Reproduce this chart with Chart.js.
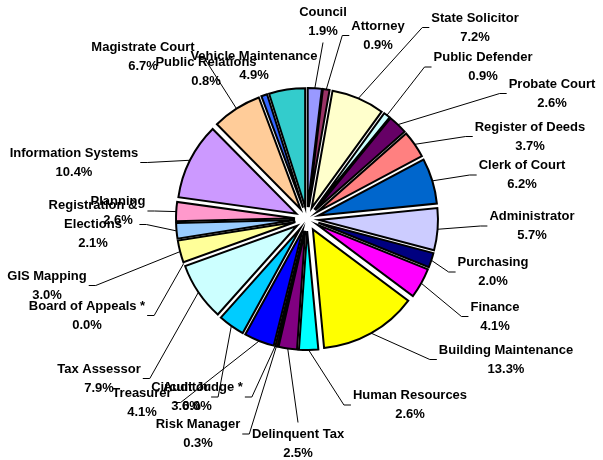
<!DOCTYPE html>
<html><head><meta charset="utf-8">
<script src="https://cdn.jsdelivr.net/npm/chart.js@4/dist/chart.umd.min.js"></script>
<style>html,body{margin:0;padding:0;background:#fff}#wrap{width:603px;height:460px}</style>
</head><body><div id="wrap"><canvas id="c" width="603" height="460"></canvas></div>
<script>
// ---- data ----
const departments = [
  'Council','Attorney','State Solicitor','Public Defender','Probate Court','Register of Deeds',
  'Clerk of Court','Administrator','Purchasing','Finance','Building Maintenance','Human Resources',
  'Delinquent Tax','Risk Manager','Circuit Judge *','Treasurer','Auditor','Tax Assessor',
  'Board of Appeals *','GIS Mapping','Registration & Elections','Planning','Information Systems',
  'Magistrate Court','Public Relations','Vehicle Maintenance'
];
const shares = [
  1.9, 0.9, 7.2, 0.9, 2.6, 3.7,
  6.2, 5.7, 2.0, 4.1, 13.3, 2.6,
  2.5, 0.3, 0.0, 4.1, 3.6, 7.9,
  0.0, 3.0, 2.1, 2.6, 10.4,
  6.7, 0.8, 4.9
];
const sliceColors = [
  '#9999FF','#993366','#FFFFCC','#CCFFFF','#660066','#FF8080',
  '#0066CC','#CCCCFF','#000080','#FF00FF','#FFFF00','#00FFFF',
  '#800080','#800000','#008080','#0000FF','#00CCFF','#CCFFFF',
  '#CCFFCC','#FFFF99','#99CCFF','#FF99CC','#CC99FF',
  '#FFCC99','#3366FF','#33CCCC'
];

// ---- layout (label box centres in px, wrapped label text) ----
const labelCentres = [
  [323,21.5],[378,35.5],[475,27.5],[483,67],[552,93.5],[530,136.5],
  [522,175],[532,226],[493,272],[495,316.5],[506,359.5],[410,405],
  [298,443.5],[198,434],[197,397],[142,402.5],[186,397],[99,378.5],
  [87,315.5],[47,285.5],[93,224.5],[118,211],[74,162.5],
  [143,57],[206,72],[254,66]
];
const labelWraps = {'Registration & Elections': ['Registration &', 'Elections']};
const EXPLODE = 12;
const LINE_H = 19;

const explodePlugin = {
  id: 'explode',
  afterDatasetsUpdate(chart) {
    chart.getDatasetMeta(0).data.forEach(arc => {
      const mid = (arc.startAngle + arc.endAngle) / 2;
      arc.x += Math.cos(mid) * EXPLODE;
      arc.y += Math.sin(mid) * EXPLODE;
    });
  }
};

const labelPlugin = {
  id: 'sliceLabels',
  afterDatasetsDraw(chart) {
    const ctx = chart.ctx;
    const arcs = chart.getDatasetMeta(0).data;
    ctx.save();
    ctx.font = 'bold 13px "Liberation Sans", Arial, sans-serif';
    ctx.textAlign = 'center';
    ctx.textBaseline = 'middle';
    ctx.strokeStyle = '#000';
    ctx.lineWidth = 1;
    arcs.forEach((arc, i) => {
      const lines = (labelWraps[departments[i]] || [departments[i]]).concat(shares[i].toFixed(1) + '%');
      const [cx, cy] = labelCentres[i];
      const h = lines.length * LINE_H;
      const w = Math.max(...lines.map(l => ctx.measureText(l).width));
      const left = cx - w / 2, right = cx + w / 2, top = cy - h / 2, bottom = cy + h / 2;
      const mid = (arc.startAngle + arc.endAngle) / 2;
      const sx = arc.x + Math.cos(mid) * arc.outerRadius;
      const sy = arc.y + Math.sin(mid) * arc.outerRadius;
      const dx = Math.max(left - sx, 0, sx - right);
      const dy = Math.max(top - sy, 0, sy - bottom);
      if (Math.hypot(dx, dy) > 10) {
        ctx.beginPath();
        ctx.moveTo(sx, sy);
        if (sx < left) { ctx.lineTo(left - 9, cy); ctx.lineTo(left - 2, cy); }
        else if (sx > right) { ctx.lineTo(right + 9, cy); ctx.lineTo(right + 2, cy); }
        else if (sy < top) { ctx.lineTo(cx, top - 2); }
        else { ctx.lineTo(cx, bottom + 2); }
        ctx.stroke();
      }
      ctx.fillStyle = '#000';
      lines.forEach((l, k) => {
        ctx.fillText(l, cx, top + LINE_H / 2 + k * LINE_H);
      });
    });
    ctx.restore();
  }
};

new Chart(document.getElementById('c'), {
  type: 'pie',
  data: {
    labels: departments,
    datasets: [{
      data: shares,
      backgroundColor: sliceColors,
      borderColor: '#000',
      borderWidth: 2,
      borderJoinStyle: 'miter'
    }]
  },
  options: {
    responsive: false,
    animation: false,
    radius: 119,
    layout: { padding: { left: 11, right: 0, top: 0, bottom: 22 } },
    plugins: { legend: { display: false }, tooltip: { enabled: false } }
  },
  plugins: [explodePlugin, labelPlugin]
});
</script>
</body></html>
